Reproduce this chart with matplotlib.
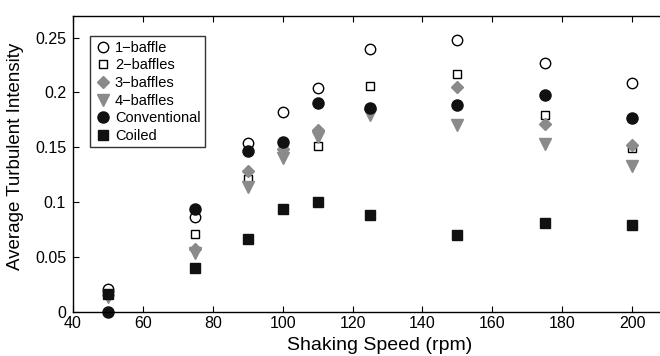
import matplotlib
matplotlib.use("Agg")
import matplotlib.pyplot as plt
from matplotlib.ticker import FuncFormatter

speeds = [50, 75, 90, 100, 110, 125, 150, 175, 200]
one_baffle = [0.021, 0.086, 0.154, 0.182, 0.204, 0.240, 0.248, 0.227, 0.209]
two_baffles = [0.016, 0.071, 0.121, 0.148, 0.151, 0.206, 0.217, 0.179, 0.149]
three_baffles = [0.015, 0.057, 0.128, 0.148, 0.166, 0.185, 0.205, 0.171, 0.152]
four_baffles = [0.013, 0.054, 0.114, 0.140, 0.159, 0.179, 0.170, 0.153, 0.133]
conventional = [0.000, 0.094, 0.147, 0.155, 0.190, 0.186, 0.189, 0.198, 0.177]
coiled = [0.016, 0.040, 0.066, 0.094, 0.100, 0.088, 0.070, 0.081, 0.079]

plt.rcParams["font.family"] = ["Liberation Sans", "DejaVu Sans"]

fig = plt.figure(figsize=(6.6, 3.56), dpi=100)
# the original is cropped on the right: axes end at the figure edge with no right spine
ax = fig.add_axes([0.1106, 0.1244, 0.8894, 0.8315])
ax.spines["right"].set_visible(False)
for name in ["top", "bottom", "left"]:
    ax.spines[name].set_linewidth(1.0)

gray = "#8a8a8a"
ax.plot(speeds, one_baffle, "o", ms=7.5, mfc="white", mec="black", mew=1.0,
        label="1\u2212baffle", clip_on=False)
ax.plot(speeds, two_baffles, "s", ms=6, mfc="white", mec="black", mew=1.0,
        label="2\u2212baffles", clip_on=False)
ax.plot(speeds, three_baffles, "D", ms=6.5, mfc=gray, mec=gray,
        label="3\u2212baffles", clip_on=False)
ax.plot(speeds, four_baffles, "v", ms=9, mfc=gray, mec=gray,
        label="4\u2212baffles", clip_on=False)
ax.plot(speeds, conventional, "o", ms=8, mfc="#111111", mec="#111111",
        label="Conventional", clip_on=False)
ax.plot(speeds, coiled, "s", ms=6.5, mfc="#111111", mec="#111111",
        label="Coiled", clip_on=False)

ax.set_xlim(40, 208)
ax.set_ylim(0, 0.27)
ax.set_xticks(range(40, 201, 20))
ax.set_yticks([0, 0.05, 0.1, 0.15, 0.2, 0.25])
ax.yaxis.set_major_formatter(FuncFormatter(lambda v, pos: f"{v:g}"))
ax.tick_params(direction="in", top=True, right=False, labelsize=11.5, length=4)
ax.tick_params(axis="x", pad=3)
ax.tick_params(axis="y", pad=5)

ax.set_xlabel("Shaking Speed (rpm)", fontsize=14, labelpad=1)
ax.xaxis.set_label_coords(0.523, -0.085)
ax.set_ylabel("Average Turbulent Intensity", fontsize=13.5, labelpad=4)
ax.yaxis.set_label_coords(-0.084, 0.525)

leg = ax.legend(loc="upper left", bbox_to_anchor=(0.029, 0.93), fontsize=10.5,
                frameon=True, fancybox=False, edgecolor="black",
                handletextpad=0.2, handlelength=1.2, labelspacing=0.25,
                borderpad=0.3, borderaxespad=0)
leg.get_frame().set_linewidth(1.0)

fig.savefig("out.png", dpi=100)
